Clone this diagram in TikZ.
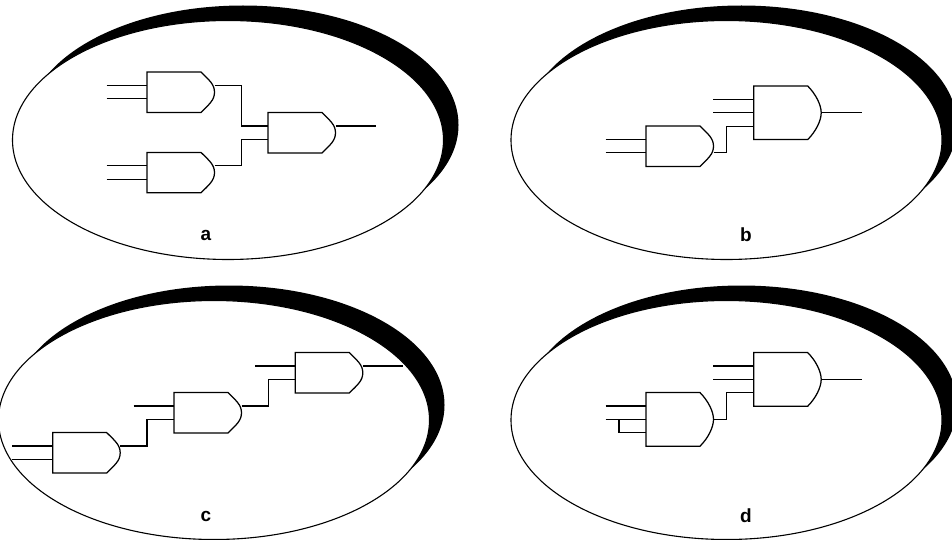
\documentclass[tikz,border=0pt]{standalone}
\usepackage{fontspec}
\setmainfont{Liberation Sans}
\usetikzlibrary{calc,positioning,shapes.geometric}
\tikzset{
    backdisc/.style={
        ellipse,
        fill=black,
        inner sep=0pt,
        minimum width=431pt,
        minimum height=239pt
    },
    frontdisc/.style={
        ellipse,
        draw=black,
        fill=white,
        line width=1.1pt,
        inner sep=0pt,
        minimum width=431pt,
        minimum height=239pt
    },
    gatebox/.style={
        rectangle,
        anchor=north west,
        inner sep=0pt,
        outer sep=0pt,
        minimum width=67.5pt
    },
    wire/.style={draw, line width=1.25pt, line join=miter},
    panellabel/.style={font=\bfseries\fontsize{19}{21}\selectfont}
}
\newcommand{\gate}[4]{
    \node[gatebox, minimum height=#4pt] (#1) at (#2,#3) {};
    \coordinate (#1 cut) at ($(#1.north east)+(-13.5,0)$);
    \coordinate (#1 cutb) at ($(#1.south east)+(-13.5,0)$);
    \draw[wire] (#1.north west) -- (#1 cut)
        .. controls ($(#1 cut)+(8,8)$) and ($(#1.east)+(0,-8)$) .. (#1.east)
        .. controls ($(#1.east)+(0,8)$) and ($(#1 cutb)+(8,-8)$) .. (#1 cutb)
        -- (#1.south west) -- cycle;
    \foreach \p in {1,2,3} {
        \coordinate (#1 p\p) at ($(#1.north west)+(0,13.4*\p)$);
        \coordinate (#1 w\p) at ($(#1 p\p)+(-40.3,0)$);
        \coordinate (#1 o\p) at (#1.east |- #1 p\p);
        \coordinate (#1 q\p) at ($(#1 o\p)+(40.5,0)$);
    }
}
\newcommand{\elbow}[3]{
    \draw[wire] (#1) -| ($(#1)!#3!(#2)$) |- (#2);
}
\begin{document}
\begin{tikzpicture}[x=1pt,y=-1pt]
    \clip (0,0) rectangle (952,540);
    \foreach \n/\cx/\cy/\t/\lx/\ly in {a/228/140/a/206/235, b/726.5/140/b/746/235,
                                       c/214/420/c/206/516, d/726.5/420/d/746/516} {
        \node[backdisc] (\n back) at (\cx+15,\cy-15) {};
        \node[frontdisc] (\n front) at (\cx,\cy) {};
        \node[panellabel] (\n label) at (\lx,\ly) {\t};
    }

    \gate{A1}{147}{72}{40.4}
    \gate{A2}{147}{152.4}{40.4}
    \gate{A3}{268}{112.6}{40.4}
    \draw[wire] (A1 w1) -- (A1 p1);
    \draw[wire] (A1 w2) -- (A1 p2);
    \draw[wire] (A2 w1) -- (A2 p1);
    \draw[wire] (A2 w2) -- (A2 p2);
    \elbow{A1 o1}{A3 p1}{.5}
    \elbow{A2 o1}{A3 p2}{.5}
    \draw[wire] (A3 o1) -- (A3 q1);

    \gate{B1}{646}{126}{40.4}
    \gate{B2}{753.7}{86}{53.6}
    \draw[wire] (B1 w1) -- (B1 p1);
    \draw[wire] (B1 w2) -- (B1 p2);
    \draw[wire] (B2 w1) -- (B2 p1);
    \draw[wire] (B2 w2) -- (B2 p2);
    \elbow{B1 o2}{B2 p3}{.33}
    \draw[wire] (B2 o2) -- (B2 q2);

    \gate{C1}{52.7}{432.6}{40.4}
    \gate{C2}{174}{392.6}{40.4}
    \gate{C3}{295.3}{352.6}{40.4}
    \draw[wire] (C1 w1) -- (C1 p1);
    \draw[wire] (C1 w2) -- (C1 p2);
    \draw[wire] (C2 w1) -- (C2 p1);
    \draw[wire] (C3 w1) -- (C3 p1);
    \elbow{C1 o1}{C2 p2}{.5}
    \elbow{C2 o1}{C3 p2}{.5}
    \draw[wire] (C3 o1) -- (C3 q1);

    \gate{D1}{646}{392.6}{53.6}
    \gate{D2}{753.7}{352.6}{53.6}
    \draw[wire] (D1 w1) -- (D1 p1);
    \draw[wire] (D1 w2) -- (D1 p2);
    \coordinate (D1 tap) at ($(D1 w2)!.33!(D1 p2)$);
    \draw[wire] (D1 tap) |- (D1 p3);
    \draw[wire] (D2 w1) -- (D2 p1);
    \draw[wire] (D2 w2) -- (D2 p2);
    \elbow{D1 o2}{D2 p3}{.33}
    \draw[wire] (D2 o2) -- (D2 q2);
\end{tikzpicture}
\end{document}
